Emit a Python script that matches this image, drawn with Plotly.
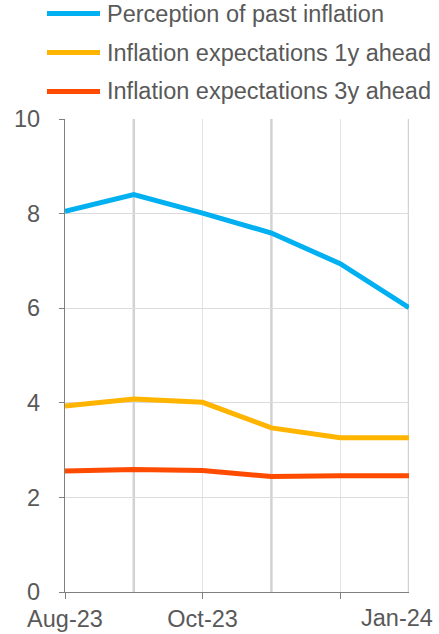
import plotly.graph_objects as go

months = ["Aug-23", "Sep-23", "Oct-23", "Nov-23", "Dec-23", "Jan-24"]
series_names = ["Perception of past inflation",
                "Inflation expectations 1y ahead",
                "Inflation expectations 3y ahead"]
past_perception = [8.05, 8.40, 8.01, 7.59, 6.94, 6.01]
expect_1y = [3.93, 4.08, 4.01, 3.47, 3.26, 3.26]
expect_3y = [2.56, 2.59, 2.57, 2.44, 2.46, 2.46]
y_ticks = [0, 2, 4, 6, 8, 10]
x_tick_labels = ["Aug-23", "Oct-23", ""]
last_label = "Jan-24"

colors = ["#00B0F0", "#FFB400", "#FF4B00"]
values = [past_perception, expect_1y, expect_3y]
xi = list(range(len(months)))

W, H = 439, 634
ML, MR, MT, MB = 65, 30, 119, 42
PW, PH = W - ML - MR, H - MT - MB
FONT = "Liberation Sans, Arial, sans-serif"
TXT = "#595959"

fig = go.Figure()
for name, vals, c in zip(series_names, values, colors):
    fig.add_trace(go.Scatter(x=xi, y=vals, mode="lines", name=name,
                             line=dict(color=c, width=5), showlegend=False,
                             hovertemplate="%{y}<extra>" + name + "</extra>"))

def px_x(p):
    return (p - ML) / PW

def px_y(p):
    return (H - MB - p) / PH

shapes = []
annotations = []
# darker vertical grid lines (Sep, Nov, Jan)
for k in [1, 3, 5]:
    shapes.append(dict(type="line", xref="x", yref="paper", x0=xi[k], x1=xi[k],
                       y0=0, y1=1, layer="below", line=dict(color="#d2d2d2", width=2.5)))
leg_y = [13.5, 52.5, 91.5]
for name, c, ly in zip(series_names, colors, leg_y):
    shapes.append(dict(type="line", xref="paper", yref="paper",
                       x0=px_x(47), x1=px_x(100), y0=px_y(ly), y1=px_y(ly),
                       line=dict(color=c, width=5)))
    annotations.append(dict(xref="paper", yref="paper", x=px_x(105), y=px_y(ly),
                            xanchor="left", yanchor="middle", text=name, showarrow=False,
                            font=dict(family=FONT, size=23.5, color=TXT)))

annotations.append(dict(xref="x", yref="paper", x=xi[-1], y=0, xanchor="right",
                        yanchor="top", text=last_label, showarrow=False, xshift=26, yshift=-11,
                        font=dict(family=FONT, size=23.5, color=TXT)))

fig.update_layout(
    width=W, height=H,
    margin=dict(l=ML, r=MR, t=MT, b=MB, pad=0),
    paper_bgcolor="white", plot_bgcolor="white",
    font=dict(family=FONT, size=23.5, color=TXT),
    shapes=shapes, annotations=annotations,
    showlegend=False,
)
fig.update_xaxes(
    range=[0, len(months) - 1], tickvals=[0, 2, 4], ticktext=x_tick_labels,
    ticks="outside", ticklen=6, tickcolor="#7f7f7f", tickwidth=1.3,
    showline=True, linecolor="#7f7f7f", linewidth=1.3,
    showgrid=True, gridcolor="#e3e3e3", gridwidth=1.2,
    zeroline=False, automargin=False, tickfont=dict(size=23.5, color=TXT),
)
fig.update_yaxes(
    range=[0, 10], tickvals=y_ticks,
    ticks="outside", ticklen=5, tickcolor="#7f7f7f", tickwidth=1.3,
    showline=True, linecolor="#7f7f7f", linewidth=1.3,
    showgrid=True, gridcolor="#dcdcdc", gridwidth=1.2,
    zeroline=False, automargin=False, ticklabelstandoff=14,
    tickfont=dict(size=23.5, color=TXT),
)

fig.write_html("out.html")
